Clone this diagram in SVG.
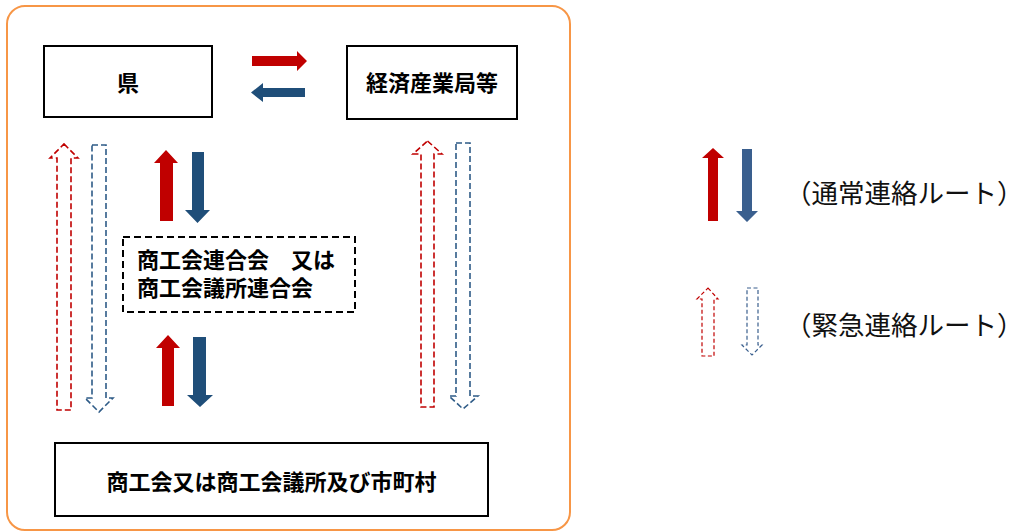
<svg xmlns="http://www.w3.org/2000/svg" width="1029" height="531" viewBox="0 0 1029 531">
<style>
.frame{fill:none;stroke:#F79646;stroke-width:2}
.box{fill:#fff;stroke:#000;stroke-width:2}
.dbox{fill:#fff;stroke:#000;stroke-width:2;stroke-dasharray:7 4}
.t{font-family:"Noto Sans CJK JP","Noto Sans CJK SC",sans-serif;font-weight:700;font-size:22px;fill:#000}
.lg{font-family:"Noto Sans CJK JP","Noto Sans CJK SC",sans-serif;font-weight:400;font-size:26.5px;fill:#111}
.red{fill:#C00000}
.blue{fill:#1F4E79}
.blue2{fill:#3A5F8E}
.dred{fill:none;stroke:#C00000;stroke-width:1.6;stroke-dasharray:6 3}
.dblue{fill:none;stroke:#2E5B87;stroke-width:1.6;stroke-dasharray:6 3}
.dred2{fill:none;stroke:#C00000;stroke-width:1.2;stroke-dasharray:4 2.5}
.dblue2{fill:none;stroke:#3A5F8E;stroke-width:1.2;stroke-dasharray:4 2.5}
</style>
<rect class="frame" x="7" y="6" width="563" height="524" rx="18" ry="18"/>
<g id="node-ken">
<rect class="box" x="44" y="46" width="168" height="71"/>
<text class="t" x="128" y="91" text-anchor="middle">県</text>
</g>
<g id="node-keizai">
<rect class="box" x="347" y="46" width="170" height="73"/>
<text class="t" x="432" y="91" text-anchor="middle">経済産業局等</text>
</g>
<g id="node-rengokai">
<rect class="dbox" x="123" y="237" width="232" height="75"/>
<text class="t"><tspan x="137" y="268">商工会連合会　又は</tspan><tspan x="137" y="296">商工会議所連合会</tspan></text>
</g>
<g id="node-shokokai">
<rect class="box" x="55" y="443" width="433" height="73"/>
<text class="t" x="271.5" y="490" text-anchor="middle">商工会又は商工会議所及び市町村</text>
</g>
<g id="connectors">
<polygon class="red" points="252,56 297,56 297,51 307,61 297,71 297,66 252,66"/>
<polygon class="blue" points="305,88 263,88 263,83 251,92.5 263,102 263,97 305,97"/>
<polygon class="red" points="166,150 178,163 173,163 173,221 160,221 160,163 154,163"/>
<polygon class="blue" points="192,152 204,152 204,210 210,210 197.5,223 185,210 192,210"/>
<polygon class="red" points="168,335 180,348 174,348 174,406 162,406 162,348 156,348"/>
<polygon class="blue" points="193,337 206,337 206,395 213,395 200,407 187,395 193,395"/>
<polygon class="dred" points="64,144 78,158 71,158 71,410 57,410 57,158 50,158"/>
<polygon class="dblue" points="92,145 106,145 106,398 113,398 99,412 85,398 92,398"/>
<polygon class="dred" points="427.5,141 442,154 434,154 434,407 421,407 421,154 413,154"/>
<polygon class="dblue" points="456,143 470,143 470,396 478,396 463,409 449,396 456,396"/>
</g>
<g id="legend">
<polygon class="red" points="713,148 724,158 718,158 718,221 708,221 708,158 702,158"/>
<polygon class="blue2" points="742,149 752,149 752,211 758,211 747,222 736,211 742,211"/>
<text class="lg" x="785" y="203">（通常連絡ルート）</text>
<polygon class="dred2" points="708,288 718,299 714,299 714,356 702,356 702,299 697,299"/>
<polygon class="dblue2" points="747,288 758,288 758,345 762,345 752,355 742,345 747,345"/>
<text class="lg" x="785" y="335">（緊急連絡ルート）</text>
</g>
</svg>
